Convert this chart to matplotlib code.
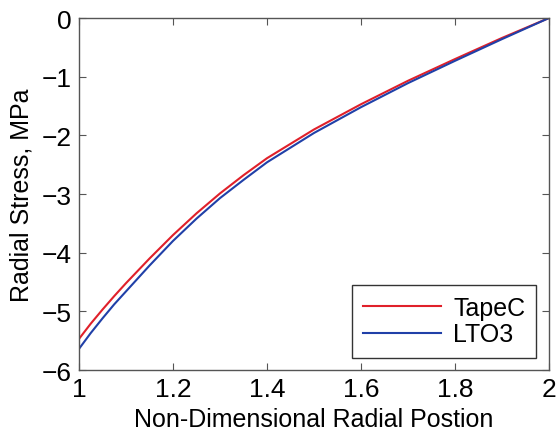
import matplotlib
matplotlib.use("Agg")
import matplotlib.pyplot as plt

# values
r_pos = [1.0, 1.025, 1.05, 1.075, 1.1, 1.15, 1.2, 1.25, 1.3, 1.35, 1.4, 1.5, 1.6, 1.7, 1.8, 1.9, 2.0]
tapec = [-5.47, -5.21, -4.97, -4.74, -4.52, -4.10, -3.70, -3.33, -2.99, -2.68, -2.39,
         -1.90, -1.47, -1.07, -0.70, -0.34, 0.0]
lto3 = [-5.64, -5.37, -5.12, -4.88, -4.66, -4.22, -3.80, -3.42, -3.07, -2.76, -2.46,
        -1.96, -1.52, -1.11, -0.73, -0.36, 0.0]

xticks = [1, 1.2, 1.4, 1.6, 1.8, 2]
xticklabels = ["1", "1.2", "1.4", "1.6", "1.8", "2"]
yticks = [-6, -5, -4, -3, -2, -1, 0]

plt.rcParams["font.family"] = ["Liberation Sans", "DejaVu Sans"]

fig = plt.figure(figsize=(5.57, 4.35), dpi=100)
ax = fig.add_axes([0.1418, 0.1471, 0.8438, 0.8092])

ax.plot(r_pos, tapec, color="#e0202a", lw=1.5, label="TapeC")
ax.plot(r_pos, lto3, color="#2040a8", lw=1.5, label="LTO3")

ax.set_xlim(1, 2)
ax.set_ylim(-6, 0)
ax.set_xticks(xticks)
ax.set_xticklabels(xticklabels)
ax.set_yticks(yticks)
ax.tick_params(direction="in", top=True, right=True, labelsize=19, length=5,
               color="#555555", pad=5)
for s in ax.spines.values():
    s.set_color("#555555")
    s.set_linewidth(1.0)

ax.set_xlabel("Non-Dimensional Radial Postion", fontsize=18, labelpad=4)
ax.set_ylabel("Radial Stress, MPa", fontsize=18, labelpad=6)

leg = ax.legend(loc="lower right", fontsize=18, fancybox=False, framealpha=1,
                edgecolor="#333333", borderaxespad=0.5, handlelength=3.1,
                borderpad=0.45, labelspacing=0.1, handletextpad=0.5)
leg.get_frame().set_linewidth(1.0)

fig.savefig("out.png", dpi=100)
